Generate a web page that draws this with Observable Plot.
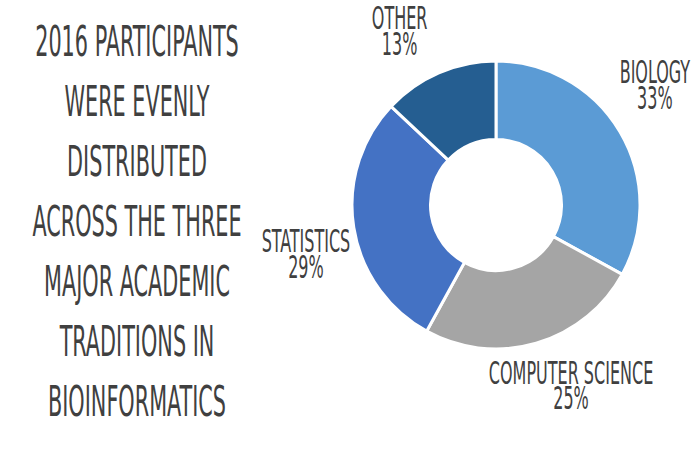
<!DOCTYPE html>
<html>
<head>
<meta charset="utf-8">
<script src="https://cdn.jsdelivr.net/npm/d3@7"></script>
<script src="https://cdn.jsdelivr.net/npm/@observablehq/plot@0.6"></script>
<style>
  html, body { margin: 0; padding: 0; background: #fff; }
  #wrap { position: relative; width: 700px; height: 460px; overflow: hidden; }
  #title { position: absolute; left: 0; top: 12px; width: 273px; color: #404040;
    font-family: "Liberation Sans Narrow", "DejaVu Sans Condensed", "Roboto", sans-serif;
    font-size: 42px; line-height: 60px; }
  #title div { position: relative; height: 60px; }
  #title span { position: absolute; left: 136.5px; top: 0; white-space: nowrap;
    transform-origin: 0 0; transform: scaleX(0.55) translateX(-50%); }
  #chart { position: absolute; left: 272px; top: 0; }
</style>
</head>
<body>
<div id="wrap">
  <div id="title"></div>
  <div id="chart"></div>
</div>
<script>
// ---- data ----
const categories = ["Biology", "Computer Science", "Statistics", "Other"];
const labels = ["BIOLOGY", "COMPUTER SCIENCE", "STATISTICS", "OTHER"];
const percents = [33, 25, 29, 13];
const colors = ["#5b9bd5", "#a5a5a5", "#4472c4", "#255e91"];
const titleLines = [
  "2016 PARTICIPANTS",
  "WERE EVENLY",
  "DISTRIBUTED",
  "ACROSS THE THREE",
  "MAJOR ACADEMIC",
  "TRADITIONS IN",
  "BIOINFORMATICS"
];

// ---- title block ----
const titleEl = document.getElementById("title");
for (const line of titleLines) {
  const d = document.createElement("div");
  const s = document.createElement("span");
  s.textContent = line;
  d.appendChild(s);
  titleEl.appendChild(d);
}

// ---- donut ----
const rows = categories.map((c, i) => ({category: c, label: labels[i], value: percents[i]}));
const arcs = d3.pie().sort(null).value(d => d.value).startAngle(0).endAngle(2 * Math.PI)(rows);
const innerRatio = 0.455;
const labelRadius = 1.37;               // label distance, in units of the outer radius
const labelShift = -6 * Math.PI / 180;  // labels sit slightly counter-clockwise of the slice middle
const labelRows = arcs.map(a => {
  const mid = (a.startAngle + a.endAngle) / 2 + labelShift;
  return {
    text: `${a.data.label}\n${a.data.value}%`,
    x: labelRadius * Math.sin(mid),
    y: labelRadius * Math.cos(mid)
  };
});
const color = Plot.scale({color: {type: "ordinal", domain: categories, range: colors}});

const chart = Plot.plot({
  width: 428,
  height: 460,
  marginLeft: 80,
  marginRight: 60,
  marginTop: 61,
  marginBottom: 111,
  x: {domain: [-1, 1], axis: null},
  y: {domain: [-1, 1], axis: null},
  style: {background: "white", overflow: "visible"},
  marks: [
    (index, scales) => {
      const cx = scales.x(0), cy = scales.y(0);
      const R = scales.x(1) - cx;
      const arc = d3.arc().innerRadius(R * innerRatio).outerRadius(R);
      const g = d3.create("svg:g").attr("transform", `translate(${cx},${cy})`);
      g.selectAll("path").data(arcs).join("path")
        .attr("d", arc)
        .attr("fill", d => color.apply(d.data.category))
        .attr("stroke", "white")
        .attr("stroke-width", 3)
        .attr("stroke-linejoin", "round");
      return g.node();
    },
    Plot.text(labelRows, {
      x: "x", y: "y", text: "text",
      textAnchor: "middle", lineAnchor: "middle",
      fontSize: 32, lineHeight: 0.81, fill: "#404040",
      fontFamily: "'Liberation Sans Narrow', 'DejaVu Sans Condensed', Roboto, sans-serif"
    })
  ]
});
chart.querySelectorAll("g[aria-label='text'] text").forEach(t => {
  t.setAttribute("transform", (t.getAttribute("transform") || "") + " scale(0.556,1)");
});
document.getElementById("chart").appendChild(chart);
</script>
</body>
</html>
